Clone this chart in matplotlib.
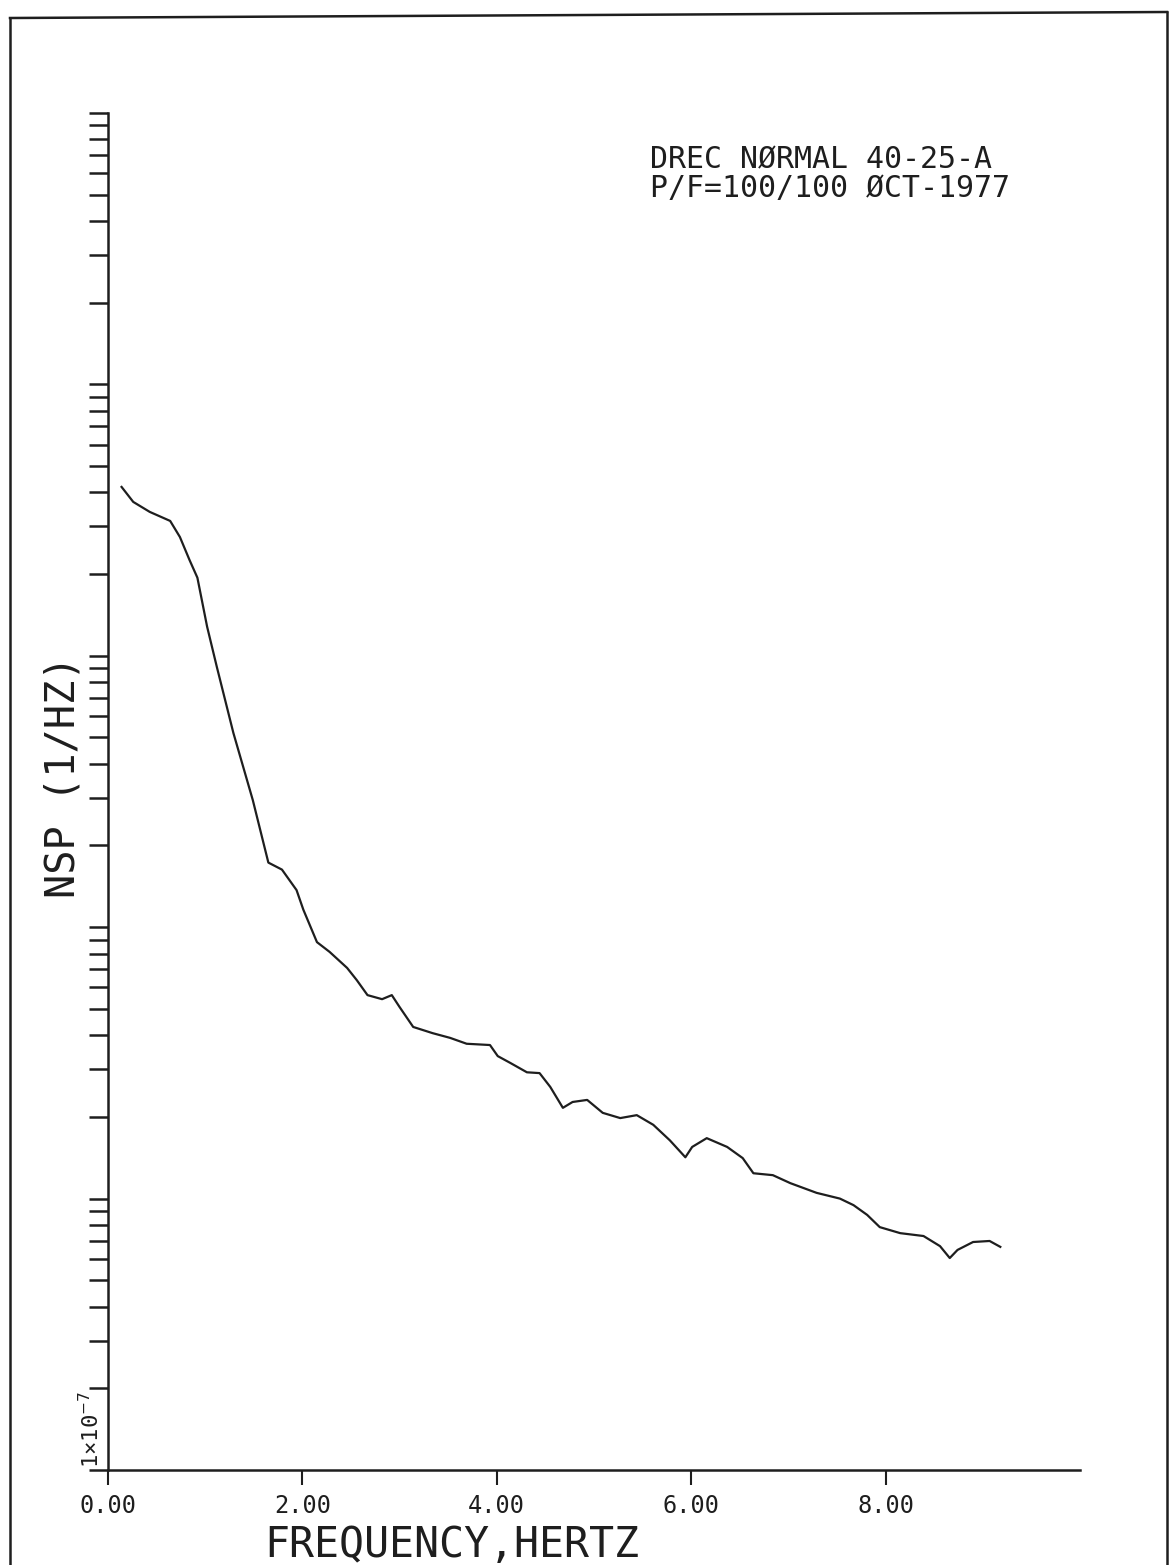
import matplotlib.pyplot as plt
from matplotlib.lines import Line2D
from matplotlib.ticker import LogLocator, NullFormatter

# Werte (Frequenz in Hz, NSP in 1/Hz)
freq = [0.14, 0.26, 0.43, 0.64, 0.74, 0.84, 0.92, 1.02, 1.12, 1.29, 1.49, 1.65,
        1.79, 1.94, 2.01, 2.15, 2.28, 2.46, 2.56, 2.67, 2.82, 2.92, 3.00, 3.14,
        3.34, 3.52, 3.69, 3.93, 4.01, 4.14, 4.31, 4.44, 4.55, 4.68, 4.78, 4.93,
        5.09, 5.27, 5.44, 5.61, 5.78, 5.94, 6.01, 6.16, 6.37, 6.53, 6.64, 6.84,
        7.02, 7.29, 7.53, 7.67, 7.81, 7.94, 8.15, 8.39, 8.56, 8.66, 8.74, 8.90,
        9.07, 9.18]
nsp = [4.19e-4, 3.69e-4, 3.39e-4, 3.14e-4, 2.74e-4, 2.25e-4, 1.94e-4, 1.28e-4,
       9.10e-5, 5.20e-5, 2.94e-5, 1.73e-5, 1.63e-5, 1.37e-5, 1.16e-5, 8.81e-6,
       8.11e-6, 7.08e-6, 6.38e-6, 5.62e-6, 5.43e-6, 5.62e-6, 5.08e-6, 4.29e-6,
       4.07e-6, 3.91e-6, 3.72e-6, 3.68e-6, 3.35e-6, 3.16e-6, 2.92e-6, 2.90e-6,
       2.58e-6, 2.16e-6, 2.27e-6, 2.31e-6, 2.07e-6, 1.98e-6, 2.03e-6, 1.87e-6,
       1.64e-6, 1.42e-6, 1.55e-6, 1.67e-6, 1.55e-6, 1.41e-6, 1.24e-6, 1.22e-6,
       1.14e-6, 1.05e-6, 1.00e-6, 9.46e-7, 8.71e-7, 7.85e-7, 7.46e-7, 7.28e-7,
       6.68e-7, 6.04e-7, 6.47e-7, 6.92e-7, 6.98e-7, 6.64e-7]
xtick_pos = [0, 2, 4, 6, 8]
xtick_labels = ['0.00', '2.00', '4.00', '6.00', '8.00']
title_lines = ['DREC NØRMAL 40-25-A', 'P/F=100/100 ØCT-1977']

plt.rcParams['font.family'] = ['DejaVu Sans Mono', 'DejaVu Sans']
ink = '#1e1e1e'

fig = plt.figure(figsize=(11.71, 15.65), dpi=100)
ax = fig.add_axes([0.0922, 0.0607, 0.8301, 0.8671])

ax.plot(freq, nsp, color=ink, lw=1.6)
ax.set_yscale('log')
ax.set_xlim(0, 10)
ax.set_ylim(1e-7, 1e-2)

ax.spines['top'].set_visible(False)
ax.spines['right'].set_visible(False)
ax.spines['left'].set_linewidth(1.8)
ax.spines['bottom'].set_linewidth(1.8)
ax.spines['left'].set_color(ink)
ax.spines['bottom'].set_color(ink)

ax.set_xticks(xtick_pos)
ax.set_xticklabels(xtick_labels, fontsize=17, color=ink)
ax.tick_params(axis='x', direction='out', length=11, width=1.5, pad=6, colors=ink)

ax.yaxis.set_major_locator(LogLocator(base=10))
ax.yaxis.set_minor_locator(LogLocator(base=10, subs=range(2, 10)))
ax.yaxis.set_major_formatter(NullFormatter())
ax.yaxis.set_minor_formatter(NullFormatter())
ax.tick_params(axis='y', which='both', direction='out', length=14, width=1.8, colors=ink)

# Beschriftungen wie auf dem Plotter
fig.text(452 / 1171, 1 - 1545 / 1565, 'FREQUENCY,HERTZ', fontsize=30,
         ha='center', va='center', color=ink)
fig.text(63 / 1171, 1 - 777 / 1565, 'NSP (1/HZ)', fontsize=29, rotation=90,
         ha='center', va='center', color=ink)
fig.text(91 / 1171, 1 - 1468 / 1565, r'1×10$^{-7}$', fontsize=16, rotation=90,
         ha='center', va='bottom', color=ink)
fig.text(650 / 1171, 1 - 168 / 1565, title_lines[0], fontsize=21.5, ha='left',
         va='baseline', color=ink)
fig.text(650 / 1171, 1 - 197 / 1565, title_lines[1], fontsize=21.5, ha='left',
         va='baseline', color=ink)

# Rahmen um das Blatt
W, H = 1171, 1565
for xs, ys in [([10, 10], [1565, 18]), ([10, 1167], [18, 12]), ([1167, 1167], [12, 1565])]:
    fig.add_artist(Line2D([x / W for x in xs], [1 - y / H for y in ys],
                          color=ink, lw=1.8, transform=fig.transFigure))

fig.savefig('out.png', dpi=100)
